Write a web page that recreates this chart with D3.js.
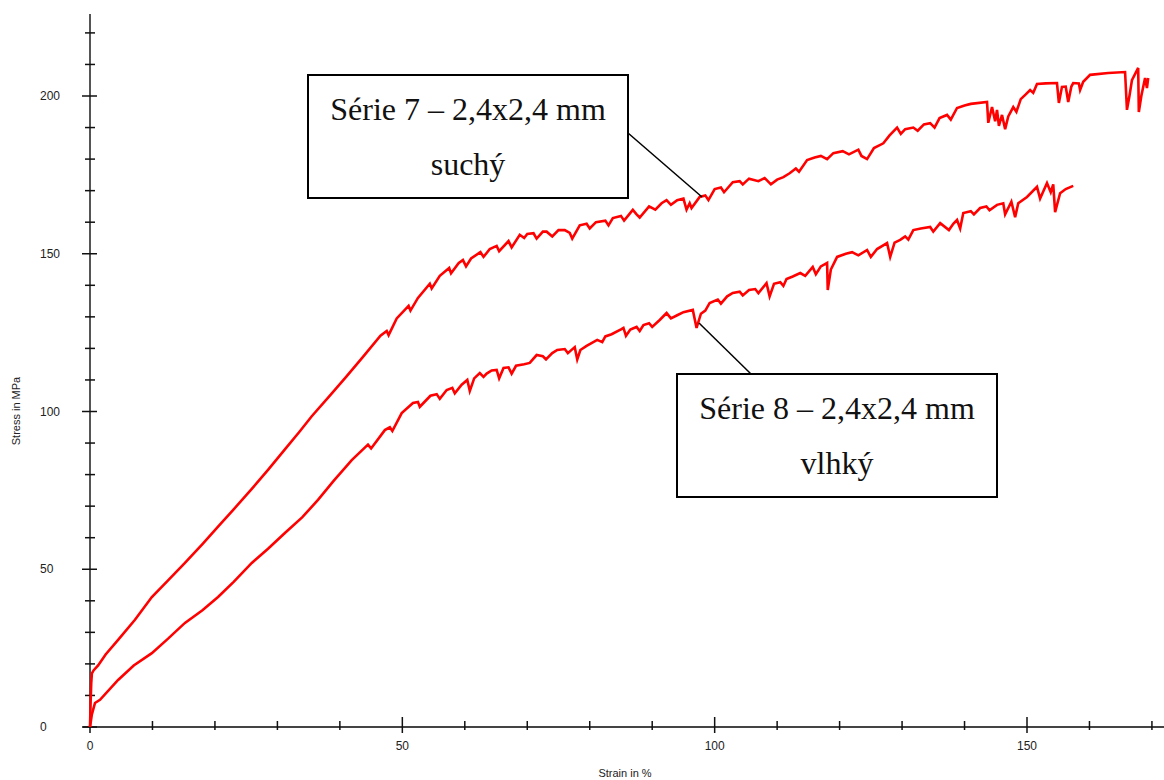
<!DOCTYPE html>
<html>
<head>
<meta charset="utf-8">
<script src="https://cdn.jsdelivr.net/npm/d3@7"></script>
<style>
  body { margin: 0; background: #fff; }
  svg { display: block; }
</style>
</head>
<body>
<div id="chart"></div>
<script>
// Stress / strain curves (strain in %, stress in MPa)
const s7Strain = [0, 0.1, 0.2, 0.3, 0.6, 1.3, 2.5, 4.5, 7.2, 9.9, 12.5, 15.2, 18, 20.5, 23, 25.9, 28.5, 31.2, 33.5, 35.5,
  38.4, 41, 43.7, 46.5, 47.5, 47.8, 49.1, 51, 51.3, 52.5, 54.4, 54.7, 56, 57.5, 57.8, 59, 59.7, 60.2, 61, 62.5,
  63, 64, 65.1, 65.5, 67, 67.5, 68.8, 69.5, 70, 71, 71.5, 72.5, 73.1, 74, 75, 76, 76.8, 77.2, 78.4, 79.5,
  80, 81, 82.5, 83, 83.7, 85, 85.5, 86.9, 87.5, 88, 89.5, 90.5, 91.5, 92.3, 93, 94, 95, 95.5, 96, 96.3,
  97.6, 98.5, 99, 100, 101, 101.5, 102.9, 104, 104.5, 105.5, 107, 108, 108.3, 109, 110, 111, 112, 113, 113.5, 114.8,
  116, 117, 118, 119, 120.5, 121.5, 123, 123.5, 124.4, 125.5, 127, 128, 129.2, 129.8, 130.5, 131.8, 132.5, 133.5, 134.5, 135.2,
  136, 137.2, 137.8, 138.8, 140, 141, 143.6, 143.8, 144.4, 144.9, 145.2, 145.5, 146, 146.5, 147, 147.8, 148.3, 149, 149.8, 150.5,
  151, 151.6, 153, 154.8, 155.1, 155.6, 156.2, 156.6, 157.1, 157.4, 158.3, 158.5, 159, 160.1, 163, 165.7, 166, 166.4, 166.8, 167.8,
  167.9, 168.3, 168.9, 169.2, 169.4];
const s7Stress = [0, 8, 14, 17, 18, 19.5, 23, 27.6, 34, 41.2, 46.5, 52, 58, 63.5, 69, 75.5, 81.5, 88, 93.5, 98.5,
  105, 111, 117.3, 124, 125.5, 124.2, 129.5, 133.5, 132, 136, 140.5, 139, 143, 145.5, 143.8, 147, 148, 146, 148.5, 150.5,
  149, 151.5, 152.5, 150.8, 154, 152, 156, 155, 156.3, 156.5, 154.8, 157, 157, 155.5, 157.5, 157.5, 156.6, 154.8, 159, 159.5,
  158, 160, 160.5, 159, 161.3, 162, 160.5, 163.9, 162.5, 161.5, 165, 164, 166, 167, 165.5, 167, 167.5, 164, 166, 164.5,
  168, 168.5, 167, 170.5, 171, 169.5, 172.7, 173, 172, 173.8, 173, 174, 173.4, 172, 173.5, 174.3, 175.5, 177, 176, 179.7,
  180.5, 181, 180, 181.9, 182.5, 181.5, 183, 181, 180, 183.5, 185, 187.5, 190, 188, 189.5, 190, 189, 191, 191.4, 190,
  193, 194, 192.5, 196.2, 197, 197.5, 198.1, 191.5, 196.5, 192, 195.6, 190.5, 194, 189.5, 193.5, 196.5, 195, 199, 200.5, 201.9,
  201, 203.8, 204, 204.1, 197.8, 202.9, 203, 198.1, 203, 204.1, 204, 201.9, 204.5, 206.7, 207.3, 207.6, 195.6, 200, 205, 208.9,
  194.9, 200, 205.7, 202.5, 205.7];

const s8Strain = [0, 0.3, 0.8, 1.6, 4.5, 7, 9.9, 12.5, 15.2, 18, 20.5, 23, 25.9, 28.5, 31.2, 34, 36.5, 39, 41.9, 44.5,
  45, 47.2, 48, 48.4, 49.9, 51.7, 52.5, 52.8, 54.5, 55.5, 56, 57.1, 58, 58.4, 59.5, 60.4, 60.8, 61.5, 62.4, 63,
  63.5, 64.3, 65.1, 65.5, 66.2, 67, 67.5, 68.2, 69.5, 70.4, 71.5, 72.5, 73, 74, 74.8, 76, 76.5, 77.6, 78, 78.5,
  79.5, 81.2, 82, 82.5, 83.5, 85, 85.4, 85.8, 86.5, 87.5, 88, 88.6, 89.5, 90, 91.2, 92.3, 93, 94, 95, 96.5,
  97.1, 97.8, 98.5, 99.2, 100.5, 101, 102, 102.9, 104, 104.5, 105.5, 106.5, 107, 108.3, 108.8, 109.5, 110.5, 111, 111.5, 112.5,
  113.7, 114.5, 115.7, 116.2, 117, 118, 118.1, 118.6, 119.6, 121, 122, 123, 124.4, 125, 126, 127.6, 128.1, 128.8, 129.7, 130.5,
  131, 131.8, 133, 134.5, 135, 136.1, 137.5, 138.2, 138.8, 139.3, 139.8, 141, 141.5, 142.5, 143.5, 144, 145.2, 146.2, 146.5, 147.5,
  148.1, 148.6, 150, 151.6, 152.1, 153.2, 153.8, 154.2, 154.5, 155.3, 156.2, 157.4];
const s8Stress = [0, 4, 7.6, 8.6, 14.9, 19.5, 23.4, 28, 33, 37, 41.2, 46, 52, 56.5, 61.5, 66.5, 72, 78, 84.6, 89.5,
  88.3, 94.1, 95, 93.8, 99.5, 102.7, 103, 101.5, 105, 105.5, 104, 106.8, 107.5, 105.8, 108.5, 110, 106.5, 110.5, 112.2, 111,
  112, 113, 113.2, 110.5, 113.8, 114, 112, 114.5, 115, 115.4, 117.9, 117.5, 116.5, 118.5, 119.5, 119.8, 118.5, 120.4, 116.5, 119.5,
  120.8, 122.7, 122, 123.8, 124.5, 126, 126.5, 124, 126, 126.8, 125.5, 127.4, 128, 126.8, 129, 131.2, 129.5, 130.5, 131.5, 132.2,
  126.5, 131, 132, 134.4, 135.5, 134.2, 136.5, 137.6, 138, 136.8, 138.5, 138.8, 137.5, 140.7, 136.5, 140.5, 141, 139.8, 142, 142.8,
  143.9, 143, 145.8, 143.5, 146, 147.1, 138.5, 145, 149, 150, 150.5, 149.5, 151.2, 149, 151.5, 153.4, 149, 153.5, 154.4, 155.5,
  154.5, 157.5, 158, 158.5, 157, 159.7, 157.5, 159.5, 160.7, 158, 162.9, 163.5, 162.5, 164.5, 165, 163.8, 165.5, 166, 162.5, 166.5,
  161.6, 166, 168, 171.2, 167.5, 172.4, 169.5, 172, 163.2, 169.2, 170.5, 171.5];

const xTickLabels = [0, 50, 100, 150];
const yTickLabels = [0, 50, 100, 150, 200];
const xMinorTicks = d3.range(0, 171, 10);
const yMinorTicks = d3.range(0, 221, 10);

const noteLabels = [
  ["Série 7 \u2013 2,4x2,4 mm", "suchý"],
  ["Série 8 \u2013 2,4x2,4 mm", "vlhký"]
];

const width = 1164, height = 780;

const svg = d3.select("#chart").append("svg")
  .attr("width", width)
  .attr("height", height);

const x = d3.scaleLinear().domain([0, 150]).range([90, 1027]);
const y = d3.scaleLinear().domain([0, 200]).range([727, 96]);

// axes
const axisG = svg.append("g").attr("class", "axes");

axisG.append("line")
  .attr("x1", 83).attr("x2", width)
  .attr("y1", y(0)).attr("y2", y(0))
  .attr("stroke", "#444").attr("stroke-width", 2);

axisG.append("line")
  .attr("x1", x(0)).attr("x2", x(0))
  .attr("y1", 14).attr("y2", y(0))
  .attr("stroke", "#555").attr("stroke-width", 2);

// ticks cross the axis lines, the labelled ones are longer
axisG.selectAll(".x-tick")
  .data(xMinorTicks)
  .enter()
  .append("line")
  .attr("class", "x-tick")
  .attr("x1", (d) => x(d)).attr("x2", (d) => x(d))
  .attr("y1", (d) => y(0) - (d % 50 === 0 ? 10 : 6))
  .attr("y2", (d) => y(0) + (d % 50 === 0 ? 6 : 3))
  .attr("stroke", "#111").attr("stroke-width", 1.5);

axisG.selectAll(".y-tick")
  .data(yMinorTicks)
  .enter()
  .append("line")
  .attr("class", "y-tick")
  .attr("x1", (d) => x(0) - (d % 50 === 0 ? 8 : 5))
  .attr("x2", (d) => x(0) + (d % 50 === 0 ? 7 : 5))
  .attr("y1", (d) => y(d)).attr("y2", (d) => y(d))
  .attr("stroke", "#111").attr("stroke-width", 1.5);

axisG.selectAll(".x-label")
  .data(xTickLabels)
  .enter()
  .append("text")
  .attr("class", "x-label")
  .attr("x", (d) => x(d))
  .attr("y", 750)
  .attr("text-anchor", "middle")
  .attr("font-family", "Liberation Sans, Arial, sans-serif")
  .attr("font-size", "12px")
  .attr("fill", "#222")
  .text((d) => d);

axisG.selectAll(".y-label")
  .data(yTickLabels)
  .enter()
  .append("text")
  .attr("class", "y-label")
  .attr("x", 40)
  .attr("y", (d) => y(d) + 4)
  .attr("font-family", "Liberation Sans, Arial, sans-serif")
  .attr("font-size", "12px")
  .attr("fill", "#222")
  .text((d) => d);

svg.append("text")
  .attr("x", 625).attr("y", 777)
  .attr("text-anchor", "middle")
  .attr("font-family", "Liberation Sans, Arial, sans-serif")
  .attr("font-size", "11px")
  .attr("fill", "#222")
  .text("Strain in %");

svg.append("text")
  .attr("transform", "translate(20, 411) rotate(-90)")
  .attr("text-anchor", "middle")
  .attr("font-family", "Liberation Sans, Arial, sans-serif")
  .attr("font-size", "11px")
  .attr("fill", "#222")
  .text("Stress in MPa");

// curves
const line = d3.line()
  .x((d) => x(d[0]))
  .y((d) => y(d[1]));

const series = [d3.zip(s7Strain, s7Stress), d3.zip(s8Strain, s8Stress)];

svg.selectAll(".curve")
  .data(series)
  .enter()
  .append("path")
  .attr("class", "curve")
  .attr("d", line)
  .attr("fill", "none")
  .attr("stroke", "#ff0000")
  .attr("stroke-width", 2.6);

// callout boxes
const boxes = [
  { x: 308, y: 75, w: 320, h: 123, lx1: 628, ly1: 133, lx2: 702, ly2: 197 },
  { x: 677, y: 374, w: 320, h: 123, lx1: 751, ly1: 374, lx2: 699, ly2: 323 }
];

boxes.forEach((b, i) => {
  let g = svg.append("g").attr("class", "note");
  g.append("line")
    .attr("x1", b.lx1).attr("y1", b.ly1)
    .attr("x2", b.lx2).attr("y2", b.ly2)
    .attr("stroke", "#000").attr("stroke-width", 1.5);
  g.append("rect")
    .attr("x", b.x).attr("y", b.y)
    .attr("width", b.w).attr("height", b.h)
    .attr("fill", "#fff")
    .attr("stroke", "#000").attr("stroke-width", 2);
  g.selectAll("text")
    .data(noteLabels[i])
    .enter()
    .append("text")
    .attr("x", b.x + b.w / 2)
    .attr("y", (d, j) => b.y + 45 + j * 55)
    .attr("text-anchor", "middle")
    .attr("font-family", "Liberation Serif, Times New Roman, serif")
    .attr("font-size", "32px")
    .attr("fill", "#111")
    .text((d) => d);
});
</script>
</body>
</html>
